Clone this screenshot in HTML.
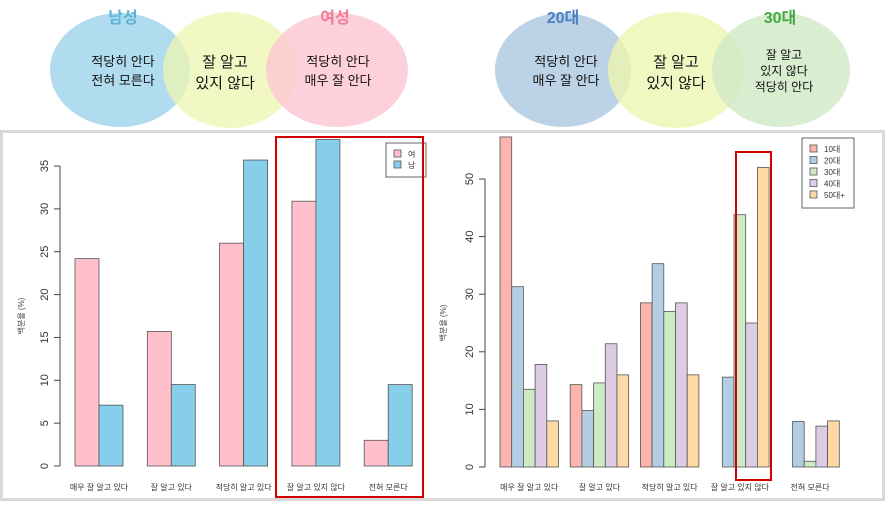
<!DOCTYPE html>
<html><head><meta charset="utf-8"><style>
body{margin:0;background:#fff;width:885px;height:501px;overflow:hidden;font-family:"Liberation Sans","Noto Sans CJK KR",sans-serif}
</style></head><body>
<svg id="s" width="885" height="501" xmlns="http://www.w3.org/2000/svg" font-family="Liberation Sans, Noto Sans CJK KR, sans-serif">
<g>
<ellipse cx="120" cy="70" rx="70" ry="57" fill="#a9d8ee" opacity="0.9"/>
<ellipse cx="230" cy="70" rx="67" ry="58" fill="#eef5b0" opacity="0.75"/>
<ellipse cx="337" cy="70" rx="71" ry="57" fill="#fcc6d2" opacity="0.8"/>
<text x="123" y="23" text-anchor="middle" font-size="16" font-weight="bold" fill="#5bb4dc">남성</text>
<text x="335" y="23" text-anchor="middle" font-size="16" font-weight="bold" fill="#f07c98">여성</text>
<text x="123" y="66" text-anchor="middle" font-size="13" fill="#111">적당히 안다</text>
<text x="123" y="85" text-anchor="middle" font-size="13" fill="#111">전혀 모른다</text>
<text x="225" y="67" text-anchor="middle" font-size="15" fill="#111">잘 알고</text>
<text x="225" y="88" text-anchor="middle" font-size="15" fill="#111">있지 않다</text>
<text x="338" y="66" text-anchor="middle" font-size="13" fill="#111">적당히 안다</text>
<text x="338" y="85" text-anchor="middle" font-size="13" fill="#111">매우 잘 안다</text>
</g>
<g>
<ellipse cx="563" cy="70" rx="68" ry="57" fill="#b4cde4" opacity="0.9"/>
<ellipse cx="676" cy="70" rx="68" ry="58" fill="#eef5b0" opacity="0.8"/>
<ellipse cx="781" cy="70" rx="69" ry="57" fill="#cfe8c6" opacity="0.8"/>
<text x="563" y="23" text-anchor="middle" font-size="16" font-weight="bold" fill="#4a80bf">20대</text>
<text x="780" y="23" text-anchor="middle" font-size="16" font-weight="bold" fill="#45a845">30대</text>
<text x="566" y="66" text-anchor="middle" font-size="13" fill="#111">적당히 안다</text>
<text x="566" y="85" text-anchor="middle" font-size="13" fill="#111">매우 잘 안다</text>
<text x="676" y="67" text-anchor="middle" font-size="15" fill="#111">잘 알고</text>
<text x="676" y="88" text-anchor="middle" font-size="15" fill="#111">있지 않다</text>
<text x="784" y="59" text-anchor="middle" font-size="12" fill="#111">잘 알고</text>
<text x="784" y="75" text-anchor="middle" font-size="12" fill="#111">있지 않다</text>
<text x="784" y="91" text-anchor="middle" font-size="12" fill="#111">적당히 안다</text>
</g>
<rect x="1.5" y="131.5" width="882" height="368" fill="none" stroke="#d9d9d9" stroke-width="3"/>
<g id="left"></g>
<g id="right"></g>
<rect x="276" y="137" width="147" height="360" fill="none" stroke="#d40000" stroke-width="2"/>
<rect x="736" y="152" width="35" height="328" fill="none" stroke="#d40000" stroke-width="2"/>
</svg>
<script>
const categories=["매우 잘 알고 있다","잘 알고 있다","적당히 알고 있다","잘 알고 있지 않다","전혀 모른다"];
const femaleValues=[24.2,15.7,26.0,30.9,3.0];
const maleValues=[7.1,9.5,35.7,38.1,9.5];
const genderLabels=["여","남"];
const genderTicks=[0,5,10,15,20,25,30,35];
const ageLabels=["10대","20대","30대","40대","50대+"];
const age10=[57.3,14.3,28.5,0,0];
const age20=[31.3,9.8,35.3,15.6,7.9];
const age30=[13.5,14.6,27.0,43.8,1.0];
const age40=[17.8,21.4,28.5,25.0,7.1];
const age50=[8.0,16.0,16.0,52.0,8.0];
const ageTicks=[0,10,20,30,40,50];
const NS="http://www.w3.org/2000/svg";
function mk(p,t,a,txt){const e=document.createElementNS(NS,t);for(const k in a)e.setAttribute(k,a[k]);if(txt!=null)e.textContent=txt;p.appendChild(e);return e;}
function chart(g,series,colors,labels,ticks,o){
  const y=v=>o.y0-v*o.k;
  mk(g,"line",{x1:o.ax,x2:o.ax,y1:y(ticks[0]),y2:y(ticks[ticks.length-1]),stroke:"#444"});
  ticks.forEach(t=>{mk(g,"line",{x1:o.ax-6,x2:o.ax,y1:y(t),y2:y(t),stroke:"#444"});
    const tx=mk(g,"text",{x:o.ax-12,y:y(t),"font-size":11,fill:"#333","text-anchor":"middle",transform:`rotate(-90 ${o.ax-12} ${y(t)})`},String(t));
    
    });
  const yt=mk(g,"text",{x:o.tx,y:(o.y0+y(ticks[ticks.length-1]))/2,"font-size":8,fill:"#444","text-anchor":"middle",transform:`rotate(-90 ${o.tx} ${(o.y0+y(ticks[ticks.length-1]))/2})`},"백분율 (%)");
  
  
  categories.forEach((c,i)=>{
    const gx=o.x0+i*o.gap;
    series.forEach((s,j)=>{
      const r=mk(g,"rect",{x:gx+j*o.bw,y:y(s[i]),width:o.bw,height:s[i]*o.k,fill:colors[j],stroke:"#555","stroke-width":0.8});
      
      
    });
    const l=mk(g,"text",{x:gx+series.length*o.bw/2,y:o.ly,"font-size":8,fill:"#333","text-anchor":"middle"},c);
    
    
  });
  const L=o.leg;
  const lg=mk(g,"g",{});
  
  
  mk(lg,"rect",{x:L.x,y:L.y,width:L.w,height:L.h,fill:"#fff",stroke:"#666"});
  labels.forEach((lb,j)=>{
    mk(lg,"rect",{x:L.x+8,y:L.y+7+j*L.dy,width:7,height:7,fill:colors[j],stroke:"#555","stroke-width":0.8});
    const t=mk(lg,"text",{x:L.x+22,y:L.y+14+j*L.dy,"font-size":L.fs,fill:"#333"},lb);
    
    
  });
}
chart(document.getElementById("left"),[femaleValues,maleValues],["#ffc0cb","#87ceeb"],genderLabels,genderTicks,
 {ax:60,y0:466,k:8.57,x0:75,gap:72.3,bw:24,ly:490,tx:24,leg:{x:386,y:143,w:40,h:34,dy:11,fs:8}});
chart(document.getElementById("right"),[age10,age20,age30,age40,age50],["#fbb4ae","#b3cde3","#ccebc5","#decbe4","#fed9a6"],ageLabels,ageTicks,
 {ax:485,y0:467,k:5.76,x0:500,gap:70.2,bw:11.7,ly:490,tx:446,leg:{x:802,y:138,w:52,h:70,dy:11.5,fs:8}});
</script>
</body></html>
